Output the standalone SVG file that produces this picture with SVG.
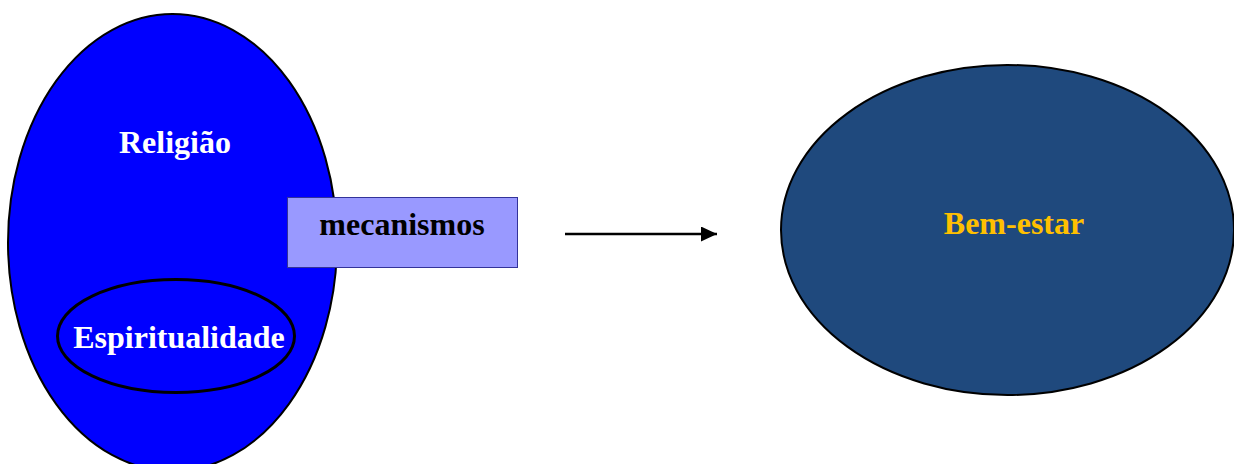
<svg xmlns="http://www.w3.org/2000/svg" width="1234" height="464" viewBox="0 0 1234 464">
<style>
text{font-family:"Liberation Serif","Times New Roman",serif;font-weight:bold;font-size:32px;text-anchor:middle}
.w{fill:#FFFFFF}
</style>
<defs>
<marker id="ah" markerWidth="16" markerHeight="15" refX="16" refY="7.5" orient="auto" markerUnits="userSpaceOnUse">
<path d="M0,0 L16,7.5 L0,15 Z" fill="#000"/>
</marker>
</defs>
<rect width="1234" height="464" fill="#FFFFFF"/>
<g id="religiao">
<ellipse cx="172.5" cy="242.5" rx="164.5" ry="228.5" fill="#0000FF" stroke="#000" stroke-width="2"/>
<text class="w" x="175" y="153">Religião</text>
</g>
<g id="espiritualidade">
<ellipse cx="176" cy="336" rx="118.5" ry="56.5" fill="#0000FF" stroke="#000" stroke-width="3"/>
<text class="w" x="179" y="348">Espiritualidade</text>
</g>
<g id="mecanismos">
<rect x="287.5" y="197.5" width="230" height="70" fill="#9999FF" stroke="#333399" stroke-width="1"/>
<text x="402" y="235" fill="#000">mecanismos</text>
</g>
<g id="connectors">
<line x1="565" y1="234" x2="717" y2="234" stroke="#000" stroke-width="2.5" marker-end="url(#ah)"/>
</g>
<g id="bemestar">
<ellipse cx="1007.5" cy="230" rx="226.5" ry="165" fill="#1F497D" stroke="#000" stroke-width="2"/>
<text x="1014" y="234" fill="#FFC000">Bem-estar</text>
</g>
</svg>
